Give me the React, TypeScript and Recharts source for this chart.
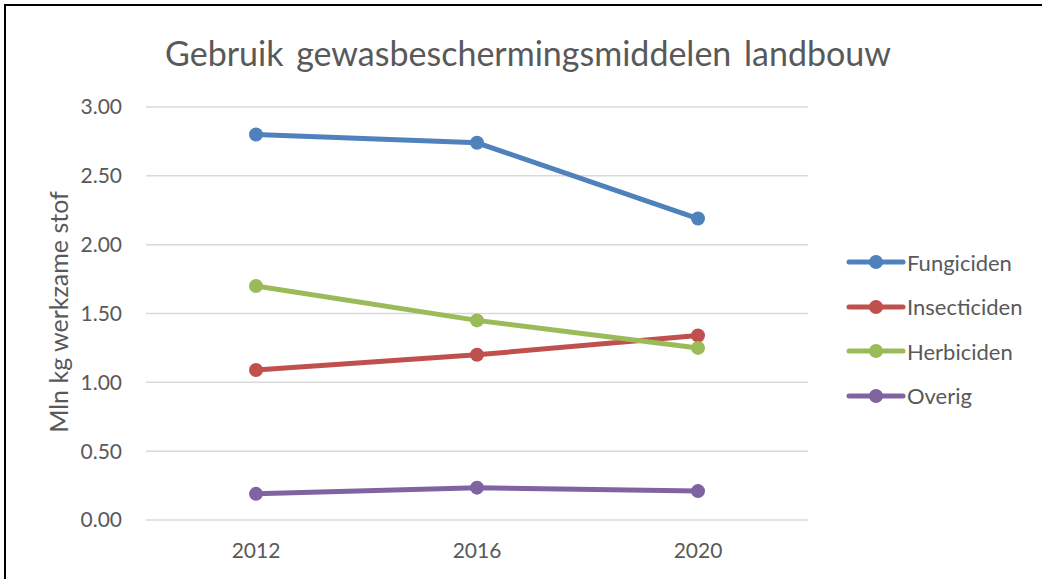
import React from "react";
import { LineChart, Line, XAxis, YAxis, CartesianGrid, Legend } from "recharts";

const years = ["2012", "2016", "2020"];
const fungiciden = [2.8, 2.74, 2.19];
const insecticiden = [1.09, 1.2, 1.34];
const herbiciden = [1.7, 1.45, 1.25];
const overig = [0.19, 0.235, 0.21];
const yTicks = [0, 0.5, 1, 1.5, 2, 2.5, 3];

const series = [
  { key: "Fungiciden", values: fungiciden, color: "#4f81bd" },
  { key: "Insecticiden", values: insecticiden, color: "#c0504d" },
  { key: "Herbiciden", values: herbiciden, color: "#9bbb59" },
  { key: "Overig", values: overig, color: "#8064a2" },
];

const data = years.map((y, i) => {
  const row: Record<string, string | number> = { year: y };
  series.forEach((s) => {
    row[s.key] = s.values[i];
  });
  return row;
});

const FONT = "Lato, 'Open Sans', sans-serif";
const TEXT = "#595959";

const LegendContent = () => (
  <div style={{ fontFamily: FONT }}>
    {series.map((s) => (
      <div key={s.key} style={{ display: "flex", alignItems: "center", height: 44.5 }}>
        <svg width={60} height={20} style={{ display: "block" }}>
          <line x1={3} y1={10} x2={57} y2={10} stroke={s.color} strokeWidth={5} strokeLinecap="round" />
          <circle cx={30} cy={10} r={7} fill={s.color} />
        </svg>
        <span style={{ fontSize: 22, color: TEXT, marginLeft: 1 }}>{s.key}</span>
      </div>
    ))}
  </div>
);

export default function App() {
  return (
    <div style={{ position: "absolute", left: 0, top: 0, width: 1042, height: 579, background: "#fff", overflow: "hidden" }}>
      <div
        style={{
          position: "absolute",
          left: 4,
          top: 4,
          width: 1040,
          height: 580,
          borderTop: "2px solid #000",
          borderLeft: "2px solid #000",
          boxSizing: "border-box",
        }}
      />
      <div
        style={{
          position: "absolute",
          left: 0,
          width: 1056,
          top: 32,
          textAlign: "center",
          fontFamily: FONT,
          fontSize: 34,
          color: TEXT,
          wordSpacing: 4,
          whiteSpace: "nowrap",
        }}
      >
        Gebruik gewasbeschermingsmiddelen landbouw
      </div>
      <div
        style={{
          position: "absolute",
          left: 58,
          top: 312,
          transform: "translate(-50%, -50%) rotate(-90deg)",
          whiteSpace: "nowrap",
          fontFamily: FONT,
          fontSize: 25,
          color: TEXT,
        }}
      >
        Mln kg werkzame stof
      </div>
      <div style={{ position: "absolute", left: 0, top: 0 }}>
        <LineChart width={1042} height={579} data={data} margin={{ top: 107, bottom: 0, left: 46, right: 44 }}>
          <CartesianGrid vertical={false} stroke="#d9d9d9" strokeWidth={1.5} />
          <XAxis
            dataKey="year"
            axisLine={false}
            tickLine={false}
            padding={{ left: 110, right: 110 }}
            tickMargin={17}
            height={59}
            tick={{ fontFamily: FONT, fontSize: 21, fill: TEXT }}
          />
          <YAxis
            width={100}
            domain={[0, 3]}
            ticks={yTicks}
            interval={0}
            axisLine={false}
            tickLine={false}
            tickMargin={18}
            tickFormatter={(v: number) => v.toFixed(2)}
            tick={{ fontFamily: FONT, fontSize: 21, fill: TEXT }}
          />
          {series.map((s) => (
            <Line
              key={s.key}
              dataKey={s.key}
              stroke={s.color}
              strokeWidth={5}
              dot={{ r: 7, fill: s.color, stroke: s.color, strokeWidth: 0 }}
              activeDot={false}
              isAnimationActive={false}
            />
          ))}
          <Legend
            layout="vertical"
            align="right"
            verticalAlign="top"
            content={<LegendContent />}
            wrapperStyle={{ left: 846, top: 240, width: 190 }}
          />
        </LineChart>
      </div>
    </div>
  );
}
